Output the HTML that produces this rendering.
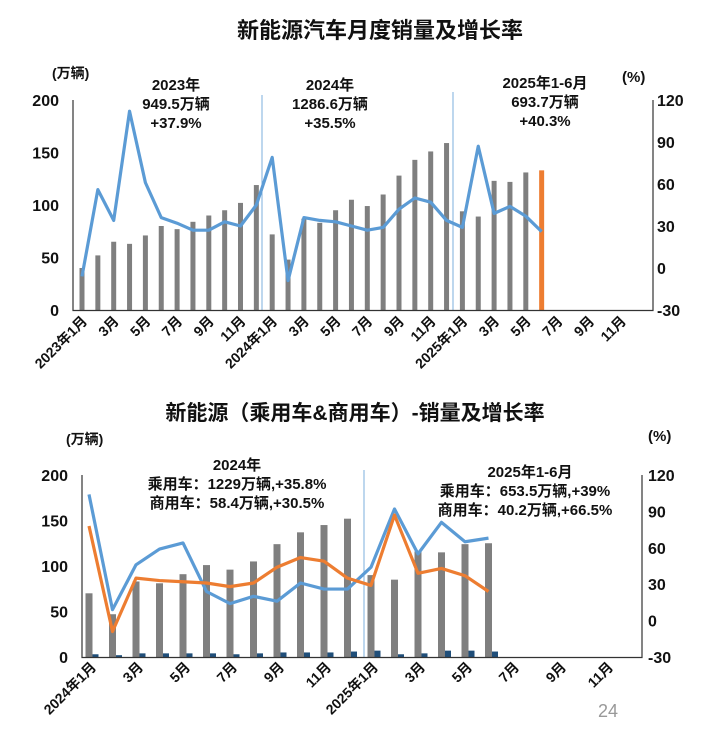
<!DOCTYPE html>
<html><head><meta charset="utf-8"><style>
body{margin:0;background:#fff;}
svg text{font-family:"Liberation Sans","Noto Sans CJK SC",sans-serif;font-weight:bold;fill:#111;}
</style></head><body>
<svg id="s" width="710" height="745" xmlns="http://www.w3.org/2000/svg">
<text x="380" y="38" font-size="22" text-anchor="middle">新能源汽车月度销量及增长率</text>
<text x="355" y="420" font-size="21" text-anchor="middle">新能源（乘用车&amp;商用车）-销量及增长率</text>
<text x="52" y="78" font-size="14">(万辆)</text>
<text x="622" y="82" font-size="15">(%)</text>
<text x="66" y="444" font-size="14">(万辆)</text>
<text x="648" y="441" font-size="15">(%)</text>
<g font-size="15" text-anchor="middle">
<text x="176" y="90">2023年</text><text x="176" y="109">949.5万辆</text><text x="176" y="128">+37.9%</text>
<text x="330" y="90">2024年</text><text x="330" y="109">1286.6万辆</text><text x="330" y="128">+35.5%</text>
<text x="545" y="88">2025年1-6月</text><text x="545" y="107">693.7万辆</text><text x="545" y="126">+40.3%</text>
<text x="237" y="470">2024年</text><text x="237" y="489">乘用车：1229万辆,+35.8%</text><text x="237" y="508">商用车：58.4万辆,+30.5%</text>
<text x="530" y="477">2025年1-6月</text><text x="525" y="496">乘用车：653.5万辆,+39%</text><text x="525" y="515">商用车：40.2万辆,+66.5%</text>
</g>
<text x="598" y="717" font-size="18" style="font-weight:normal;fill:#999">24</text>
<g id="g"></g>
</svg>
<script>
var g=document.getElementById('g'),h='';
function T(x,y,t,a,s,r){h+='<text x="'+x+'" y="'+y+'" font-size="'+(s||14)+'" text-anchor="'+(a||'end')+'"'+(r?' transform="rotate(-45 '+x+' '+y+')"':'')+'>'+t+'</text>';}
var b1=[40,52,65,63,71,80,77,84,90,95,102,119,72,48,87,83,95,105,99,110,128,143,151,159,94,89,123,122,131,133];
var p1=[-6,56,34,112,61,36,32,27,27,33,30,45,79,-9,36,34,33,30,27,29,42,50,47,34,29,87,39,44,37,26];
function X1(i){return 82+15.85*i;}
b1.forEach(function(v,i){h+='<rect x="'+(X1(i)-2.5)+'" y="'+(310-v*1.05)+'" width="5" height="'+(v*1.05)+'" fill="'+(i==29?'#ed7d31':'#7f7f7f')+'"/>';});
h+='<line x1="262" y1="95" x2="262" y2="310" stroke="#5b9bd5" stroke-width="0.8"/><line x1="453" y1="92" x2="453" y2="310" stroke="#5b9bd5" stroke-width="0.8"/>';
h+='<polyline fill="none" stroke="#5b9bd5" stroke-width="3.2" stroke-linejoin="round" points="'+p1.map(function(v,i){return X1(i)+','+(268-1.4*v)}).join(' ')+'"/>';
h+='<path d="M73 100V310.5H653V100" fill="none" stroke="#333" stroke-width="1.2"/>';
[200,150,100,50,0].forEach(function(v){T(59,310-v*1.05+6,v,'end',16);});
[120,90,60,30,0,-30].forEach(function(v){T(657,268-1.4*v+6,v,'start',16);});
for(var i=0;i<36;i+=2){var m=i%12+1,t=m==1?(2023+i/12)+'年1月':m+'月';T(X1(i)+6,322,t,'end',14,1);}
var b2=[70,47,83,81,91,101,96,105,124,137,145,152,90,85,116,115,124,125];
var c2=[3,2,4,4,4,4,3,4,5,5,5,6,7,3,4,7,7,6,7];
var q1=[104,9,46,59,64,24,14,20,16,31,26,26,44,92,55,81,65,68];
var q2=[78,-9,35,33,32,31,28,31,44,52,49,35,29,87,39,43,37,24];
function X2(i){return 89+23.5*i;}
b2.forEach(function(v,i){h+='<rect x="'+(X2(i)-3.5)+'" y="'+(657-v*0.91)+'" width="7" height="'+(v*0.91)+'" fill="#7f7f7f"/>';
h+='<rect x="'+(X2(i)+3.5)+'" y="'+(657-c2[i]*0.91)+'" width="6" height="'+(c2[i]*0.91)+'" fill="#1f4e79"/>';});
h+='<line x1="364" y1="470" x2="364" y2="657" stroke="#5b9bd5" stroke-width="0.8"/>';
h+='<polyline fill="none" stroke="#5b9bd5" stroke-width="3.2" stroke-linejoin="round" points="'+q1.map(function(v,i){return X2(i)+','+(620.6-1.213*v)}).join(' ')+'"/>';
h+='<polyline fill="none" stroke="#ed7d31" stroke-width="3.2" stroke-linejoin="round" points="'+q2.map(function(v,i){return X2(i)+','+(620.6-1.213*v)}).join(' ')+'"/>';
h+='<path d="M82 475V657.5H642V475" fill="none" stroke="#333" stroke-width="1.2"/>';
[200,150,100,50,0].forEach(function(v){T(68,657-v*0.91+6,v,'end',16);});
[120,90,60,30,0,-30].forEach(function(v){T(648,620.6-1.213*v+6,v,'start',16);});
for(var i=0;i<24;i+=2){var m=i%12+1,t=m==1?(2024+i/12)+'年1月':m+'月';T(X2(i)+8,668,t,'end',14,1);}
g.innerHTML=h;
</script>
</body></html>
